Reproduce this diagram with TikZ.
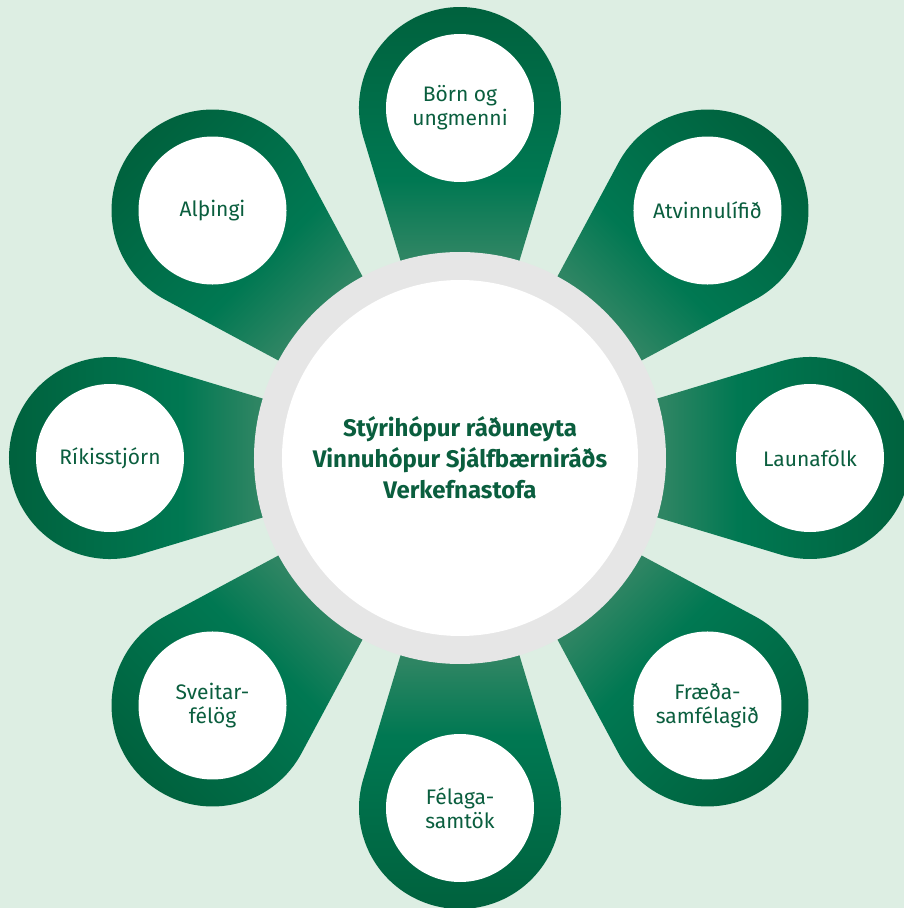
\documentclass[tikz,border=0pt]{standalone}
\usepackage{fontspec}
\setmainfont{Fira Sans}

\definecolor{bgmint}{HTML}{DDEEE3}
\definecolor{ringgray}{HTML}{E6E6E6}
\definecolor{leafdark}{HTML}{00603C}
\definecolor{leafmid}{HTML}{007852}
\definecolor{leaflight}{HTML}{2E8563}
\definecolor{textgreen}{HTML}{0A5E3E}

\pgfdeclareverticalshading{leafshade}{100bp}{color(0bp)=(leaflight); color(47bp)=(leaflight); color(55bp)=(leafmid); color(75bp)=(leafdark); color(100bp)=(leafdark)}

\tikzset{
    leaf/.style={shading=leafshade, transform canvas={rotate=#1},
        insert path={(0,0) -- (-96.71,320.84) arc[start angle=196.77, end angle=-16.77, radius=101] -- cycle}},
    hole/.style={circle, fill=white, minimum size=148pt, inner sep=0pt, align=center,
        text=textgreen, font=\fontsize{21}{24}\selectfont},
    hub/.style={circle, fill=white, minimum size=356pt, inner sep=0pt, align=center,
        text=textgreen, font=\fontsize{24}{31}\selectfont\bfseries}
}

\begin{document}
\begin{tikzpicture}[x=1pt, y=1pt]
        \useasboundingbox (-460,-450) rectangle (444,458);
        \fill[bgmint] (-460,-450) rectangle (444,458);
        \shade[leaf=0];
        \shade[leaf=-45];
        \shade[leaf=-90];
        \shade[leaf=-135];
        \shade[leaf=180];
        \shade[leaf=135];
        \shade[leaf=90];
        \shade[leaf=45];
        \fill[ringgray] (0,0) circle (206);
        \node[hub] (hub) at (0,0) {Stýrihópur ráðuneyta\\Vinnuhópur Sjálfbærniráðs\\Verkefnastofa};
        \node[hole] (born) at (90:350) {Börn og\\ungmenni};
        \node[hole] (atvinna) at (45:350) {Atvinnulífið};
        \node[hole] (launa) at (0:350) {Launafólk};
        \node[hole] (fraeda) at (-45:350) {Fræða-\\samfélagið};
        \node[hole] (felaga) at (-90:350) {Félaga-\\samtök};
        \node[hole] (sveitar) at (-135:350) {Sveitar-\\félög};
        \node[hole] (rikis) at (180:350) {Ríkisstjórn};
        \node[hole] (althingi) at (135:350) {Alþingi};
    \end{tikzpicture}
\end{document}
